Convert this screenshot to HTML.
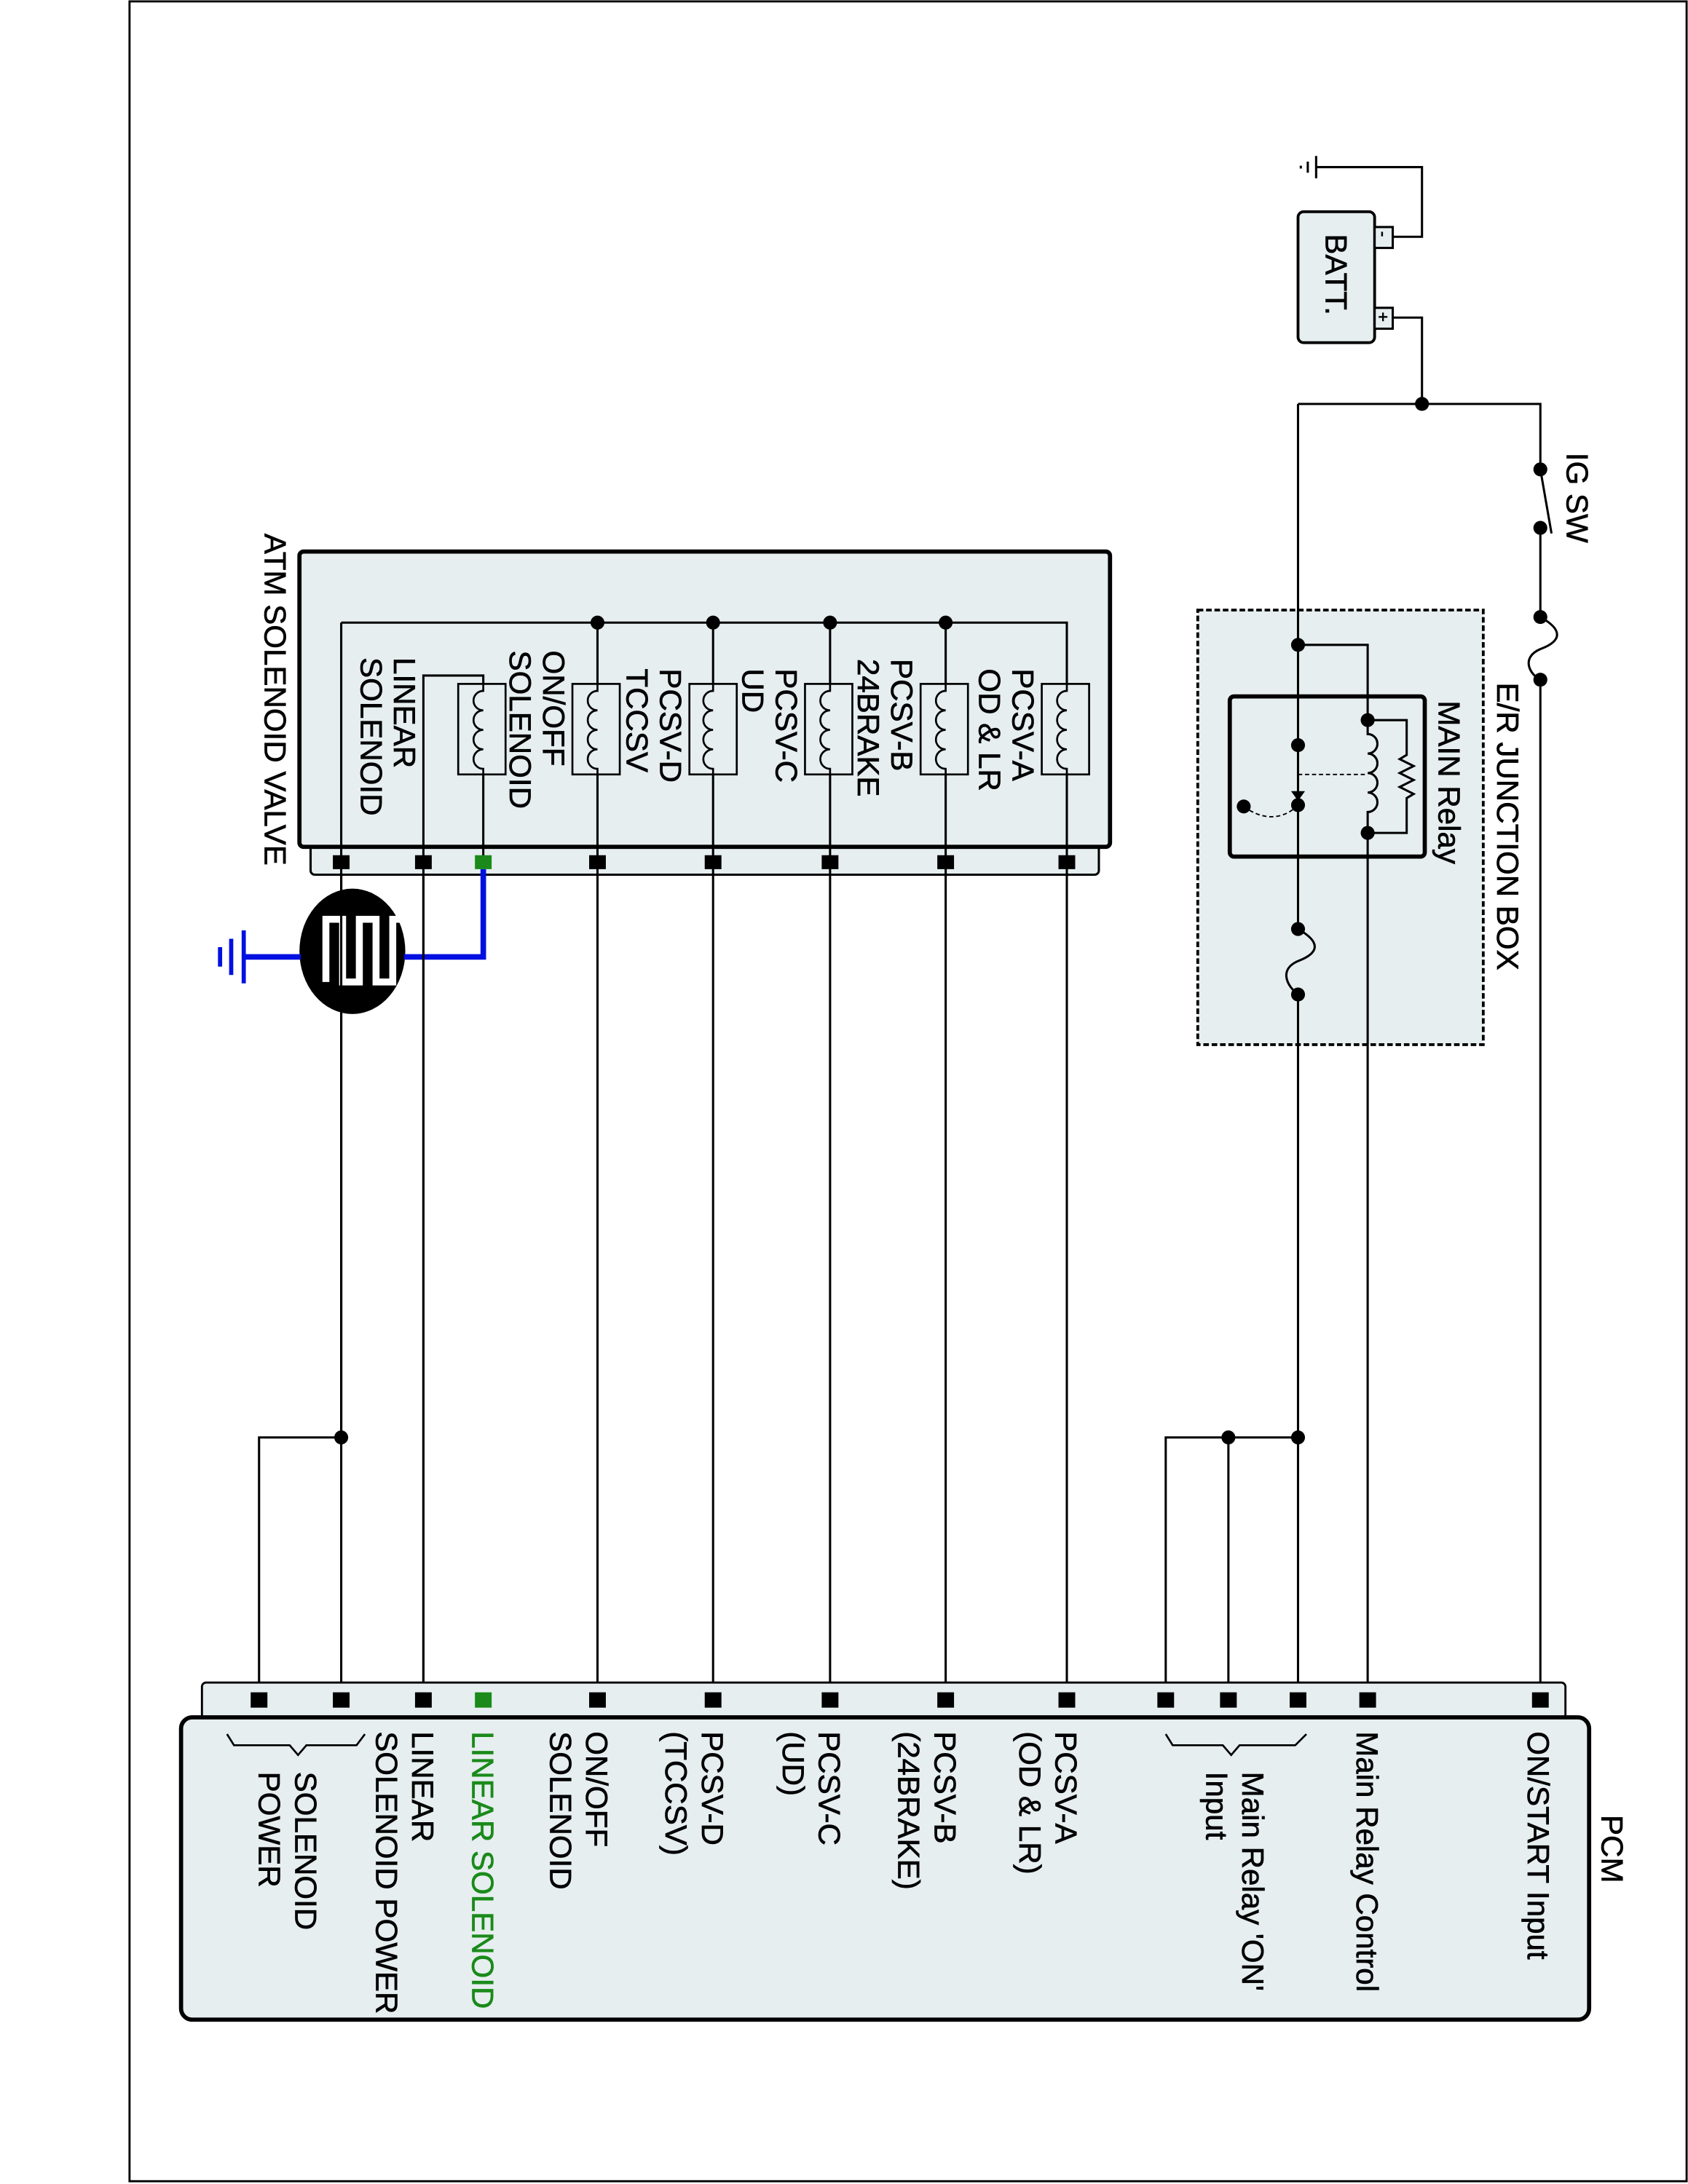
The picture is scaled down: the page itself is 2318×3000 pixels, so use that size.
<!DOCTYPE html>
<html><head><meta charset="utf-8"><style>html,body{margin:0;padding:0;background:#fff}svg{display:block}text{font-family:"Liberation Sans",sans-serif;font-size:22px;fill:#000;stroke:#000;stroke-width:0.35}</style></head>
<body>
<svg width="2318" height="3000" viewBox="0 0 1212 1568" preserveAspectRatio="none" xmlns="http://www.w3.org/2000/svg">
<rect x="93" y="1" width="1118" height="1565" fill="#fff" stroke="#000" stroke-width="1.5"/>
<g fill="none" stroke="#000" stroke-width="1.6">
<rect x="932" y="152" width="55" height="94" rx="4" fill="#e6eeef" stroke-width="2"/>
<rect x="987" y="163" width="13" height="15" fill="#e6eeef"/>
<rect x="987" y="221" width="13" height="15" fill="#e6eeef"/>
<path d="M1000 170H1021V120H945M945 112V128M939 116V124M934 119V121"/>
<path d="M1000 228H1021V290"/>
<path d="M932 290H1106V337"/>
<path d="M1106 337L1114 383"/>
<path d="M1106 379V443"/>
<path d="M1106 443C1122 452 1122 460 1106 466C1092 472 1098 484 1106 488"/>
<path d="M1106 488V1220"/>
<rect x="860" y="438" width="205" height="312" fill="#e6eeef" stroke-dasharray="4 2" stroke-width="2"/>
<rect x="883" y="500" width="140" height="115" rx="3" fill="#e6eeef" stroke-width="3"/>
<path d="M932 290V578"/>
<path d="M932 463H982V517"/>
<path d="M982 517V527a7 7 0 0 1 0 14a7 7 0 0 1 0 14a7 7 0 0 1 0 14a7 7 0 0 1 0 14V598V1220"/>
<path d="M982 517H1010V542l-5 3l10 5l-10 5l10 5l-10 5l10 5l-5 3V598H982"/>
<path d="M932 556H982" stroke-dasharray="3 2" stroke-width="1"/>
<path d="M932 578C920 590 905 588 893 579" stroke-dasharray="3 2" stroke-width="1"/>
<path d="M932 578V667"/>
<path d="M932 667C948 676 948 684 932 690C918 696 924 708 932 714"/>
<path d="M932 714V1220"/>
<path d="M837 1220V1032H932M882 1032V1220"/>
<rect x="223" y="606" width="566" height="22" rx="3" fill="#e6eeef"/>
<rect x="215" y="396" width="582" height="212" rx="3" fill="#e6eeef" stroke-width="3"/>
<path d="M245 447H766V491M679 447V491M596 447V491M512 447V491M429 447V491"/>
<path d="M245 447V1220M304 1220V485H347V491"/>
<path d="M429 556V1220M512 556V1220M596 556V1220M679 556V1220M766 556V1220"/>
<path d="M347 556V620" />
<path d="M245 1032H186V1220"/>
</g>
<g fill="none" stroke="#000" stroke-width="1.4">
<rect x="748" y="491" width="34" height="65"/><rect x="661" y="491" width="34" height="65"/><rect x="578" y="491" width="34" height="65"/><rect x="495" y="491" width="34" height="65"/><rect x="411" y="491" width="34" height="65"/><rect x="329" y="491" width="34" height="65"/>
<path d="M766 491V496a7 7 0 0 0 0 14a7 7 0 0 0 0 14a7 7 0 0 0 0 14a7 7 0 0 0 0 14V556"/>
<path d="M679 491V496a7 7 0 0 0 0 14a7 7 0 0 0 0 14a7 7 0 0 0 0 14a7 7 0 0 0 0 14V556"/>
<path d="M596 491V496a7 7 0 0 0 0 14a7 7 0 0 0 0 14a7 7 0 0 0 0 14a7 7 0 0 0 0 14V556"/>
<path d="M512 491V496a7 7 0 0 0 0 14a7 7 0 0 0 0 14a7 7 0 0 0 0 14a7 7 0 0 0 0 14V556"/>
<path d="M429 491V496a7 7 0 0 0 0 14a7 7 0 0 0 0 14a7 7 0 0 0 0 14a7 7 0 0 0 0 14V556"/>
<path d="M347 491V496a7 7 0 0 0 0 14a7 7 0 0 0 0 14a7 7 0 0 0 0 14a7 7 0 0 0 0 14V556"/>
</g>
<g fill="#000">
<circle cx="1021" cy="290" r="5"/><circle cx="1106" cy="337" r="5"/><circle cx="1106" cy="379" r="5"/><circle cx="1106" cy="443" r="5"/><circle cx="1106" cy="488" r="5"/>
<circle cx="932" cy="463" r="5"/><circle cx="982" cy="517" r="5"/><circle cx="982" cy="598" r="5"/><circle cx="932" cy="535" r="5"/><circle cx="932" cy="578" r="5"/><circle cx="893" cy="579" r="5"/><circle cx="932" cy="667" r="5"/><circle cx="932" cy="714" r="5"/>
<path d="M927 568h10l-5 7z"/>
<circle cx="932" cy="1032" r="5"/><circle cx="882" cy="1032" r="5"/><circle cx="245" cy="1032" r="5"/>
<circle cx="429" cy="447" r="5"/><circle cx="512" cy="447" r="5"/><circle cx="596" cy="447" r="5"/><circle cx="679" cy="447" r="5"/>
<rect x="239" y="614" width="12" height="10"/><rect x="298" y="614" width="12" height="10"/><rect x="423" y="614" width="12" height="10"/><rect x="506" y="614" width="12" height="10"/><rect x="590" y="614" width="12" height="10"/><rect x="673" y="614" width="12" height="10"/><rect x="760" y="614" width="12" height="10"/>
</g>
<rect x="341" y="614" width="12" height="10" fill="#1a8a1a"/>
<ellipse cx="253" cy="683" rx="38" ry="45" fill="#000"/>
<path d="M234 705V660H246V705H258V660H270V705H282V660H290" fill="none" stroke="#fff" stroke-width="5"/>
<path d="M347 624V687H290M216 687H175" fill="none" stroke="#0010e0" stroke-width="4"/>
<path d="M175 668V706M166 674V700M158 680V694" fill="none" stroke="#0010e0" stroke-width="3"/>
<path d="M245 628V1032M304 628V1220" fill="none" stroke="#000" stroke-width="1.6"/>
<rect x="145" y="1208" width="979" height="26" rx="3" fill="#e6eeef" stroke="#000" stroke-width="1.5"/>
<rect x="130" y="1233" width="1011" height="217" rx="8" fill="#e6eeef" stroke="#000" stroke-width="3"/>
<g fill="#000">
<rect x="180" y="1215" width="12" height="11"/><rect x="239" y="1215" width="12" height="11"/><rect x="298" y="1215" width="12" height="11"/><rect x="423" y="1215" width="12" height="11"/><rect x="506" y="1215" width="12" height="11"/><rect x="590" y="1215" width="12" height="11"/><rect x="673" y="1215" width="12" height="11"/><rect x="760" y="1215" width="12" height="11"/><rect x="831" y="1215" width="12" height="11"/><rect x="876" y="1215" width="12" height="11"/><rect x="926" y="1215" width="12" height="11"/><rect x="976" y="1215" width="12" height="11"/><rect x="1100" y="1215" width="12" height="11"/>
</g>
<rect x="341" y="1215" width="12" height="11" fill="#1a8a1a"/>
<path d="M837 1245L842 1253H878L884 1260L890 1253H930L938 1245M163 1245L168 1253H208L214 1260L220 1253H256L262 1245" fill="none" stroke="#000" stroke-width="1.4"/>
<g>
<text transform="translate(1150,1303) rotate(90)">PCM</text>
<text transform="translate(1097,1243) rotate(90)">ON/START Input</text>
<text transform="translate(974,1243) rotate(90)">Main Relay Control</text>
<text transform="translate(892,1272) rotate(90)">Main Relay 'ON'</text>
<text transform="translate(866,1272) rotate(90)">Input</text>
<text transform="translate(758,1243) rotate(90)">PCSV-A</text>
<text transform="translate(732,1243) rotate(90)">(OD &amp; LR)</text>
<text transform="translate(671,1243) rotate(90)">PCSV-B</text>
<text transform="translate(645,1243) rotate(90)">(24BRAKE)</text>
<text transform="translate(588,1243) rotate(90)">PCSV-C</text>
<text transform="translate(562,1243) rotate(90)">(UD)</text>
<text transform="translate(504,1243) rotate(90)">PCSV-D</text>
<text transform="translate(478,1243) rotate(90)">(TCCSV)</text>
<text transform="translate(421,1243) rotate(90)">ON/OFF</text>
<text transform="translate(395,1243) rotate(90)">SOLENOID</text>
<text transform="translate(339,1243) rotate(90)" style="fill:#1a8a1a;stroke:#1a8a1a">LINEAR SOLENOID</text>
<text transform="translate(296,1243) rotate(90)">LINEAR</text>
<text transform="translate(270,1243) rotate(90)">SOLENOID POWER</text>
<text transform="translate(212,1272) rotate(90)">SOLENOID</text>
<text transform="translate(186,1272) rotate(90)">POWER</text>
<text transform="translate(190,383) rotate(90)">ATM SOLENOID VALVE</text>
<text transform="translate(727,480) rotate(90)">PCSV-A</text>
<text transform="translate(703,480) rotate(90)">OD &amp; LR</text>
<text transform="translate(640,473) rotate(90)">PCSV-B</text>
<text transform="translate(616,473) rotate(90)">24BRAKE</text>
<text transform="translate(557,480) rotate(90)">PCSV-C</text>
<text transform="translate(533,480) rotate(90)">UD</text>
<text transform="translate(474,480) rotate(90)">PCSV-D</text>
<text transform="translate(450,480) rotate(90)">TCCSV</text>
<text transform="translate(390,467) rotate(90)">ON/OFF</text>
<text transform="translate(366,467) rotate(90)">SOLENOID</text>
<text transform="translate(283,472) rotate(90)">LINEAR</text>
<text transform="translate(259,472) rotate(90)">SOLENOID</text>
<text transform="translate(1075,490) rotate(90)">E/R JUNCTION BOX</text>
<text transform="translate(1033,503) rotate(90)">MAIN Relay</text>
<text transform="translate(1125,325) rotate(90)">IG SW</text>
<text transform="translate(952,168) rotate(90)">BATT.</text>
<text transform="translate(989,166) rotate(90)" style="font-size:12px">-</text>
<text transform="translate(989,224) rotate(90)" style="font-size:12px">+</text>
</g>
</svg>
</body></html>
